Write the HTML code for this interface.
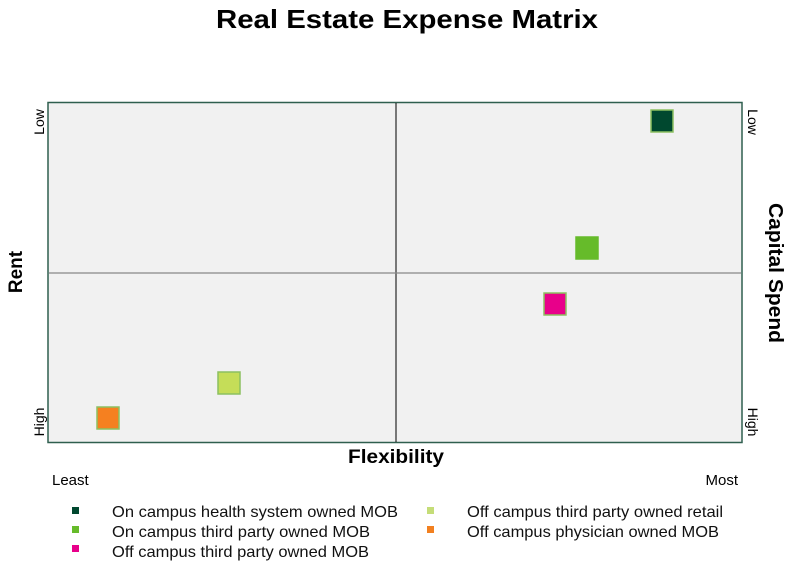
<!DOCTYPE html>
<html><head><meta charset="utf-8"><style>
html,body{margin:0;padding:0;background:#fff;}
svg{display:block;font-family:"Liberation Sans",Arial,sans-serif;}
</style></head><body>
<svg width="800" height="567" viewBox="0 0 800 567">
<text x="407" y="28" font-size="26" font-weight="bold" text-anchor="middle" textLength="382" lengthAdjust="spacingAndGlyphs">Real Estate Expense Matrix</text>
<rect x="48" y="102.5" width="694" height="340" fill="#f1f1f1" stroke="#2f5f4f" stroke-width="1.5"/>
<line x1="396" y1="103" x2="396" y2="442" stroke="#000" stroke-width="1"/>
<line x1="49" y1="273" x2="741" y2="273" stroke="#888" stroke-width="1.2"/>
<g stroke="#8cc060" stroke-width="1.5">
<rect x="651" y="110" width="22" height="22" fill="#00482f"/>
<rect x="576" y="237" width="22" height="22" fill="#66bb2a" stroke="#66bb2a"/>
<rect x="544" y="293" width="22" height="22" fill="#e8008a"/>
<rect x="218" y="372" width="22" height="22" fill="#c5dd58"/>
<rect x="97" y="407" width="22" height="22" fill="#f58020"/>
</g>
<g font-size="14" fill="#000">
<text transform="translate(44,122) rotate(-90)" text-anchor="middle">Low</text>
<text transform="translate(44,422) rotate(-90)" text-anchor="middle">High</text>
<text transform="translate(748,122) rotate(90)" text-anchor="middle">Low</text>
<text transform="translate(748,422) rotate(90)" text-anchor="middle">High</text>
</g>
<g font-size="15" fill="#000">
<text x="52" y="485">Least</text>
<text x="738" y="485" text-anchor="end">Most</text>
</g>
<g font-size="19" font-weight="bold">
<text x="396" y="463" text-anchor="middle" textLength="96" lengthAdjust="spacingAndGlyphs">Flexibility</text>
<text transform="translate(22,272) rotate(-90)" text-anchor="middle">Rent</text>
<text transform="translate(769,273) rotate(90)" text-anchor="middle" font-size="20" textLength="140" lengthAdjust="spacingAndGlyphs">Capital Spend</text>
</g>
<g font-size="16" fill="#111">
<rect x="72" y="507" width="7" height="7" fill="#00482f"/>
<text x="112" y="517" textLength="286" lengthAdjust="spacingAndGlyphs">On campus health system owned MOB</text>
<rect x="72" y="526" width="7" height="7" fill="#66bb2a"/>
<text x="112" y="537" textLength="258" lengthAdjust="spacingAndGlyphs">On campus third party owned MOB</text>
<rect x="72" y="545" width="7" height="7" fill="#e8008a"/>
<text x="112" y="557" textLength="257" lengthAdjust="spacingAndGlyphs">Off campus third party owned MOB</text>
<rect x="427" y="507" width="7" height="7" fill="#c5dd78"/>
<text x="467" y="517" textLength="256" lengthAdjust="spacingAndGlyphs">Off campus third party owned retail</text>
<rect x="427" y="526" width="7" height="7" fill="#f28020"/>
<text x="467" y="537" textLength="252" lengthAdjust="spacingAndGlyphs">Off campus physician owned MOB</text>
</g>
</svg>
</body></html>
